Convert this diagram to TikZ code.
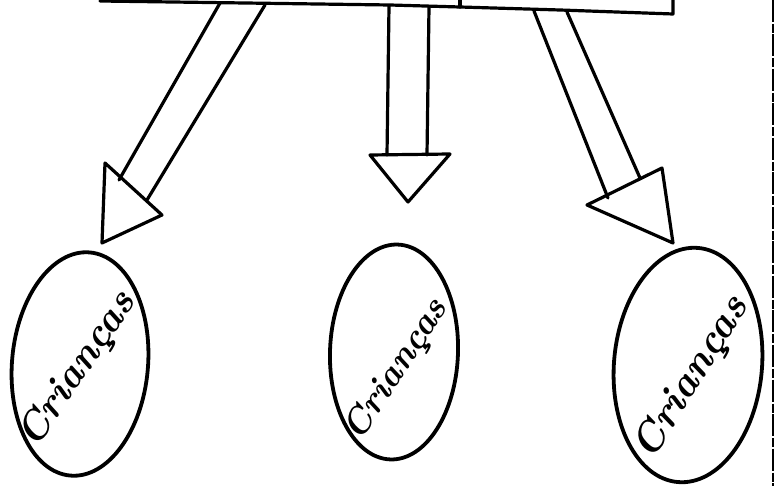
\documentclass[tikz,border=0pt]{standalone}
\usetikzlibrary{shapes.geometric}
\begin{document}
\begin{tikzpicture}[x=1pt,y=-1pt,
  ink/.style={line width=3.2pt, line join=round, line cap=round, black},
  shaft/.style={ink},
  head/.style={ink},
  blob/.style={ellipse, draw, line width=3.8pt, inner sep=0pt, outer sep=0pt},
  word/.style={inner sep=0pt}
]
\useasboundingbox (0,0) rectangle (782,486);
\fill[white] (0,0) rectangle (782,486);

% top box (only its lower part is visible)
\coordinate (bl) at (100,1);
\coordinate (bm) at (460,7);
\coordinate (br) at (673,14);
\coordinate (dt) at (460,0);
\coordinate (rt) at (673,0);
\draw[ink] (bl) -- (390,5) -- (bm) -- (560,10) -- (br) -- (rt);
\draw[ink] (dt) -- (bm);

% right border
\coordinate (pt) at (773,0);
\coordinate (pb) at (773,486);
\draw[line width=2.4pt, dash pattern=on 22pt off 2pt on 9pt off 1.5pt] (pt) -- (pb);

% left arrow
\coordinate (l1) at (220,3);  \coordinate (l2) at (119,180);
\coordinate (l3) at (265,5);  \coordinate (l4) at (147,200);
\coordinate (la) at (105,163); \coordinate (lb) at (162,215); \coordinate (lc) at (102,243);
\draw[shaft] (l1) -- (l2);
\draw[shaft] (l3) -- (l4);
\draw[head] (la) -- (lb) -- (lc) -- cycle;

% middle arrow
\coordinate (m1) at (389,6);  \coordinate (m2) at (387,155);
\coordinate (m3) at (429,7);  \coordinate (m4) at (427,155);
\coordinate (ma) at (370,155); \coordinate (mb) at (450,154); \coordinate (mc) at (408,202);
\draw[shaft] (m1) -- (m2);
\draw[shaft] (m3) -- (m4);
\draw[head] (ma) -- (mb) -- (mc) -- cycle;

% right arrow
\coordinate (r1) at (534,11);  \coordinate (r2) at (608,198);
\coordinate (r3) at (567,12);  \coordinate (r4) at (640,178);
\coordinate (ra) at (587,205); \coordinate (rb) at (662,168); \coordinate (rc) at (673,243);
\draw[shaft] (r1) -- (r2);
\draw[shaft] (r3) -- (r4);
\draw[head] (ra) -- (rb) -- (rc) -- cycle;

% ellipses
\node[blob, minimum width=136pt, minimum height=224pt, rotate=-5] (e1) at (80,364) {};
\node[blob, minimum width=128pt, minimum height=215pt, rotate=-2] (e2) at (394,352) {};
\node[blob, minimum width=148pt, minimum height=235pt, rotate=-5] (e3) at (688,365) {};

% labels
\node[word, rotate=56, font=\fontsize{40}{40}\selectfont\bfseries\itshape] (t1) at (78,370) {Crianças};
\node[word, rotate=57, font=\fontsize{36}{36}\selectfont\bfseries\itshape] (t2) at (397,370) {Crianças};
\node[word, rotate=58, font=\fontsize{41}{41}\selectfont\bfseries\itshape] (t3) at (692,378) {Crianças};
\end{tikzpicture}
\end{document}
